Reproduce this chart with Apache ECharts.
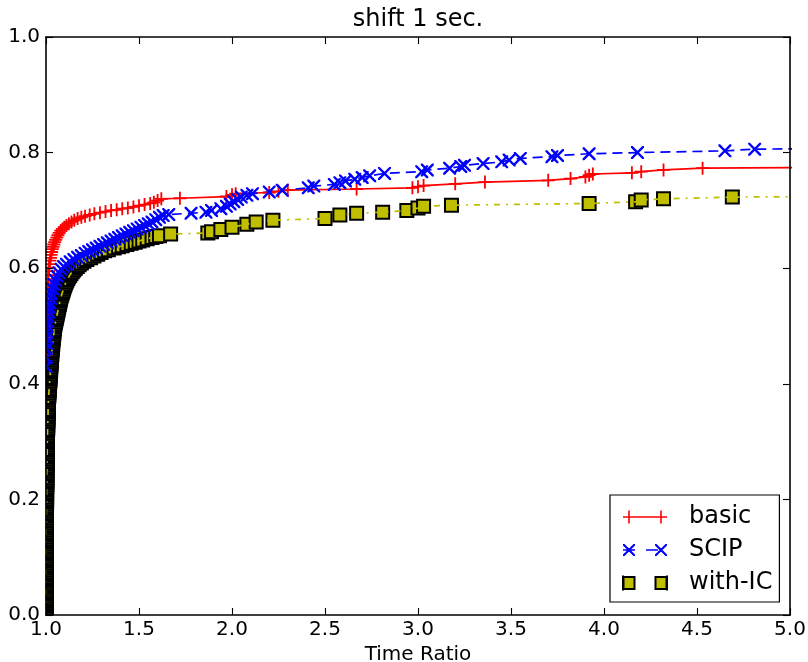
<!DOCTYPE html>
<html>
<head>
<meta charset="utf-8">
<script src="https://cdn.jsdelivr.net/npm/echarts@6/dist/echarts.min.js"></script>
<style>html,body{margin:0;padding:0;background:#fff}#c{width:808px;height:662px}</style>
</head>
<body>
<div id="c"></div>
<script>
const titleText = 'shift 1 sec.';
const xName = 'Time Ratio';
const seriesNames = ['basic', 'SCIP', 'with-IC'];
const xTicks = [1.0, 1.5, 2.0, 2.5, 3.0, 3.5, 4.0, 4.5, 5.0];
const yTicks = [0.0, 0.2, 0.4, 0.6, 0.8, 1.0];

const basicData = [
[1,0.45],[1,0.48],[1,0.5],[1.001,0.51],[1.002,0.52],[1.003,0.528],[1.004,0.536],[1.005,0.544],[1.006,0.552],[1.007,0.56],[1.008,0.567],[1.009,0.574],[1.01,0.581],[1.012,0.588],[1.014,0.595],[1.016,0.601],[1.018,0.607],[1.021,0.613],[1.024,0.618],[1.027,0.623],[1.03,0.628],[1.034,0.633],[1.038,0.637],[1.042,0.641],[1.047,0.645],[1.052,0.649],[1.058,0.653],[1.064,0.657],[1.071,0.661],[1.079,0.665],[1.088,0.668],[1.098,0.671],[1.11,0.674],[1.123,0.677],[1.137,0.68],[1.152,0.683],[1.17,0.686],[1.19,0.688],[1.21,0.69],[1.235,0.692],[1.26,0.694],[1.29,0.696],[1.32,0.698],[1.35,0.7],[1.38,0.701],[1.41,0.703],[1.44,0.704],[1.47,0.706],[1.5,0.708],[1.53,0.71],[1.56,0.712],[1.58,0.714],[1.6,0.717],[1.62,0.72],[1.72,0.721],[1.97,0.724],[2.0,0.727],[2.02,0.729],[2.2,0.731],[2.25,0.733],[2.3,0.735],[2.67,0.737],[2.97,0.739],[3.0,0.741],[3.03,0.743],[3.2,0.746],[3.36,0.749],[3.7,0.752],[3.82,0.755],[3.9,0.758],[3.92,0.761],[3.94,0.763],[4.15,0.765],[4.2,0.767],[4.32,0.77],[4.53,0.773],[5.6,0.775]
];

const scipData = [
[1,0.43],[1.001,0.445],[1.002,0.46],[1.003,0.47],[1.004,0.48],[1.005,0.49],[1.007,0.5],[1.009,0.508],[1.011,0.516],[1.014,0.524],[1.017,0.532],[1.021,0.54],[1.025,0.548],[1.03,0.556],[1.036,0.564],[1.043,0.572],[1.051,0.579],[1.06,0.586],[1.07,0.592],[1.082,0.598],[1.095,0.603],[1.11,0.607],[1.13,0.611],[1.15,0.615],[1.17,0.619],[1.19,0.622],[1.21,0.626],[1.23,0.629],[1.25,0.632],[1.27,0.635],[1.29,0.638],[1.31,0.641],[1.33,0.644],[1.35,0.647],[1.37,0.65],[1.39,0.653],[1.41,0.656],[1.43,0.659],[1.45,0.662],[1.47,0.665],[1.49,0.668],[1.51,0.671],[1.53,0.674],[1.55,0.677],[1.57,0.68],[1.59,0.684],[1.61,0.688],[1.63,0.691],[1.66,0.693],[1.78,0.695],[1.86,0.697],[1.89,0.7],[1.94,0.703],[1.97,0.707],[1.99,0.711],[2.01,0.715],[2.03,0.719],[2.05,0.723],[2.08,0.726],[2.11,0.729],[2.2,0.732],[2.27,0.735],[2.41,0.739],[2.44,0.742],[2.55,0.745],[2.58,0.748],[2.61,0.751],[2.66,0.754],[2.7,0.757],[2.74,0.76],[2.82,0.764],[3.02,0.767],[3.05,0.77],[3.17,0.773],[3.23,0.776],[3.25,0.778],[3.35,0.781],[3.45,0.784],[3.49,0.787],[3.55,0.79],[3.72,0.793],[3.75,0.795],[3.92,0.798],[4.18,0.8],[4.65,0.803],[4.81,0.806],[5.6,0.808]
];

const withIcData = [
[1,0],[1,0.003],[1,0.006],[1,0.009],[1,0.012],[1,0.015],[1,0.018],[1,0.021],[1,0.024],[1,0.027],[1,0.03],[1,0.033],[1,0.036],[1,0.039],[1,0.042],[1,0.045],[1,0.048],[1,0.051],[1,0.054],[1,0.057],[1,0.06],[1,0.063],[1,0.066],[1,0.069],[1,0.072],[1,0.075],[1,0.078],[1,0.081],[1,0.084],[1,0.087],[1,0.09],[1,0.093],[1,0.096],[1,0.099],[1,0.102],[1,0.105],[1,0.108],[1,0.111],[1,0.114],[1,0.117],[1,0.12],[1,0.123],[1,0.126],[1,0.129],
[1.001,0.132],[1.001,0.135],[1.001,0.138],[1.001,0.141],[1.001,0.144],[1.001,0.147],[1.001,0.15],[1.001,0.153],[1.001,0.156],[1.001,0.159],
[1.002,0.162],[1.002,0.165],[1.002,0.168],[1.002,0.171],[1.002,0.174],[1.002,0.177],[1.002,0.18],[1.002,0.183],[1.002,0.186],[1.002,0.189],
[1.003,0.192],[1.003,0.195],[1.003,0.198],[1.003,0.201],[1.003,0.204],[1.003,0.207],[1.003,0.21],[1.003,0.213],[1.003,0.216],[1.003,0.219],
[1.004,0.222],[1.004,0.225],[1.004,0.228],[1.004,0.231],[1.004,0.234],[1.004,0.237],[1.004,0.24],[1.004,0.243],[1.004,0.246],[1.004,0.249],
[1.005,0.252],[1.005,0.255],[1.005,0.258],[1.005,0.261],[1.005,0.264],[1.005,0.267],[1.005,0.27],
[1.006,0.273],[1.006,0.276],[1.006,0.279],[1.006,0.282],[1.006,0.285],[1.006,0.288],
[1.007,0.291],[1.007,0.294],[1.007,0.297],[1.007,0.3],[1.007,0.303],
[1.008,0.306],[1.008,0.309],[1.008,0.312],[1.008,0.315],[1.008,0.318],
[1.009,0.321],[1.009,0.324],[1.009,0.327],[1.009,0.33],[1.009,0.333],
[1.01,0.336],[1.01,0.339],[1.01,0.342],[1.01,0.345],
[1.011,0.348],[1.011,0.351],[1.011,0.354],[1.011,0.357],
[1.012,0.36],[1.012,0.363],[1.012,0.366],
[1.013,0.369],[1.013,0.372],[1.013,0.375],
[1.015,0.378],[1.015,0.381],[1.015,0.384],
[1.017,0.387],[1.017,0.39],[1.017,0.393],
[1.019,0.396],[1.019,0.399],[1.019,0.402],
[1.021,0.405],[1.021,0.408],[1.021,0.411],
[1.023,0.414],[1.023,0.417],[1.023,0.42],
[1.025,0.423],[1.025,0.426],[1.025,0.429],
[1.027,0.432],[1.027,0.435],[1.027,0.438],
[1.029,0.441],[1.029,0.444],[1.029,0.447],
[1.031,0.45],[1.031,0.453],[1.031,0.456],
[1.033,0.459],[1.033,0.462],[1.033,0.465],
[1.036,0.468],[1.036,0.471],[1.036,0.474],
[1.039,0.477],[1.039,0.48],[1.039,0.483],
[1.042,0.486],[1.042,0.489],[1.042,0.492],
[1.045,0.495],[1.045,0.498],
[1.047,0.501],[1.049,0.504],[1.051,0.507],[1.053,0.51],[1.055,0.513],[1.057,0.516],[1.059,0.519],[1.061,0.522],[1.063,0.525],[1.065,0.528],[1.067,0.531],[1.069,0.534],[1.071,0.537],[1.073,0.54],[1.075,0.543],[1.077,0.546],[1.079,0.549],[1.082,0.552],[1.085,0.555],[1.088,0.558],[1.091,0.561],[1.094,0.564],[1.097,0.567],[1.1,0.57],[1.104,0.573],[1.108,0.576],[1.112,0.579],[1.117,0.582],[1.122,0.585],[1.128,0.588],[1.134,0.591],[1.141,0.594],[1.149,0.597],[1.158,0.6],[1.168,0.603],[1.178,0.606],[1.19,0.609],[1.204,0.612],[1.22,0.615],[1.24,0.618],[1.258,0.621],[1.278,0.624],[1.296,0.627],[1.315,0.63],[1.335,0.632],[1.366,0.635],[1.39,0.637],[1.41,0.639],[1.435,0.641],[1.458,0.643],[1.48,0.645],[1.5,0.647],[1.52,0.649],[1.544,0.651],[1.57,0.653],[1.59,0.655],[1.61,0.656],[1.67,0.659],[1.87,0.661],[1.89,0.663],[1.94,0.667],[2.0,0.671],[2.08,0.676],[2.13,0.68],[2.22,0.683],[2.5,0.686],[2.58,0.692],[2.67,0.695],[2.81,0.697],[2.94,0.7],[3.0,0.704],[3.03,0.707],[3.18,0.709],[3.92,0.712],[4.17,0.715],[4.2,0.718],[4.32,0.72],[4.69,0.723],[5.6,0.725]
];

const FONT = 'DejaVu Sans';
const plusPath = 'path://M0,4.3H10V5.7H0Z M4.3,0H5.7V10H4.3Z';
const crossPath = 'path://M0,0L1.3,0L10,8.7L10,10L8.7,10L0,1.3Z M10,0L10,1.3L1.3,10L0,10L0,8.7L8.7,0Z';
// legend samples: line with a marker at each end (44 x 13 box)
const legendBasic = 'path://M0,5.7H44V7.3H0Z M5.2,0H6.8V13H5.2Z M37.2,0H38.8V13H37.2Z';
const legendScip = 'path://M0,5.7H12V7.3H0Z M23,5.7H35V7.3H23Z M0,0.5L1.5,0.5L12,11L12,12.5L10.5,12.5L0,2Z M12,0.5L12,2L1.5,12.5L0,12.5L0,11L10.5,0.5Z M32,0.5L33.5,0.5L44,11L44,12.5L42.5,12.5L32,2Z M44,0.5L44,2L33.5,12.5L32,12.5L32,11L42.5,0.5Z M0,0H0.01V13H0Z';
const legendIc = 'path://M0.5,0.5H11.5V12.5H0.5Z M32.5,0.5H43.5V12.5H32.5Z M0,0H0.01V13H0Z M43.99,0H44V13H43.99Z';

const chart = echarts.init(document.getElementById('c'), null, {renderer: 'canvas'});

const axisCommon = {
  z: 10,
  axisLine: {show: true, onZero: false, lineStyle: {color: '#000', width: 1.6}},
  axisTick: {show: true, inside: true, length: 7, lineStyle: {color: '#000', width: 1.1}},
  splitLine: {show: false}
};

const xBase = {
  type: 'value', min: xTicks[0], max: xTicks[xTicks.length - 1], interval: xTicks[1] - xTicks[0]
};
const yBase = {
  type: 'value', min: yTicks[0], max: yTicks[yTicks.length - 1], interval: yTicks[1] - yTicks[0]
};

const icItemStyle = {color: '#bfbf00', borderColor: '#000', borderWidth: 2, opacity: 1};

chart.setOption({
  animation: false,
  backgroundColor: '#fff',
  grid: {left: 46, right: 18, top: 37, bottom: 47, containLabel: false, outerBoundsMode: 'none'},
  xAxis: [
    Object.assign({}, xBase, axisCommon, {
      position: 'bottom',
      name: xName, nameLocation: 'middle', nameGap: 25,
      nameTextStyle: {fontFamily: FONT, fontSize: 20, color: '#000'},
      axisLabel: {margin: 5, fontFamily: FONT, fontSize: 20, color: '#000', formatter: v => v.toFixed(1)}
    }),
    Object.assign({}, xBase, axisCommon, {
      position: 'top',
      name: titleText, nameLocation: 'middle', nameGap: 5,
      nameTextStyle: {fontFamily: FONT, fontSize: 24, color: '#000'},
      axisLabel: {show: false}
    })
  ],
  yAxis: [
    Object.assign({}, yBase, axisCommon, {
      position: 'left',
      axisLabel: {margin: 6, fontFamily: FONT, fontSize: 20, color: '#000', formatter: v => v.toFixed(1)}
    }),
    Object.assign({}, yBase, axisCommon, {
      position: 'right',
      axisLabel: {show: false}
    })
  ],
  graphic: [
    {type: 'rect', z: 5, silent: true, shape: {x: 0, y: 0, width: 45.5, height: 662}, style: {fill: '#fff'}},
    {type: 'rect', z: 5, silent: true, shape: {x: 0, y: 615.5, width: 808, height: 47}, style: {fill: '#fff'}}
  ],
  legend: {
    z: 12,
    data: [
      {name: seriesNames[0], icon: legendBasic},
      {name: seriesNames[1], icon: legendScip},
      {name: seriesNames[2], icon: legendIc}
    ],
    orient: 'vertical',
    left: 610, top: 495,
    itemWidth: 44, itemHeight: 13, itemGap: 9,
    symbolKeepAspect: true,
    padding: [10, 7, 7, 12],
    borderColor: '#000', borderWidth: 1.2, borderRadius: 0,
    backgroundColor: '#fff',
    textStyle: {fontFamily: FONT, fontSize: 24, lineHeight: 24, color: '#000', padding: [0, 0, 0, 17]},
    selectedMode: false
  },
  series: [
    {
      name: seriesNames[0], type: 'line', data: basicData, xAxisIndex: 0, yAxisIndex: 0,
      symbol: plusPath, symbolSize: 13, showSymbol: true, clip: true, silent: true,
      lineStyle: {color: '#ff0000', width: 1.7, type: 'solid'},
      itemStyle: {color: '#ff0000', borderWidth: 0, opacity: 1},
      emphasis: {disabled: true}
    },
    {
      name: seriesNames[1], type: 'line', data: scipData, xAxisIndex: 0, yAxisIndex: 0,
      symbol: crossPath, symbolSize: 13, showSymbol: true, clip: true, silent: true,
      lineStyle: {color: '#0000ff', width: 1.7, type: [10, 6]},
      itemStyle: {color: '#0000ff', borderWidth: 0, opacity: 1},
      emphasis: {disabled: true}
    },
    {
      // with-IC connecting line (drawn beneath its markers)
      name: seriesNames[2], type: 'line', data: withIcData, xAxisIndex: 0, yAxisIndex: 0,
      showSymbol: false, symbol: 'rect', clip: true, silent: true,
      lineStyle: {color: '#bfbf00', width: 1.7, type: [6, 6, 2, 6]},
      itemStyle: icItemStyle,
      emphasis: {disabled: true}
    },
    {
      // with-IC markers
      name: seriesNames[2], type: 'scatter', data: withIcData, xAxisIndex: 0, yAxisIndex: 0,
      symbol: 'rect', symbolSize: 13, clip: true, silent: true, large: false,
      itemStyle: icItemStyle,
      emphasis: {disabled: true}
    }
  ]
});
</script>
</body>
</html>
